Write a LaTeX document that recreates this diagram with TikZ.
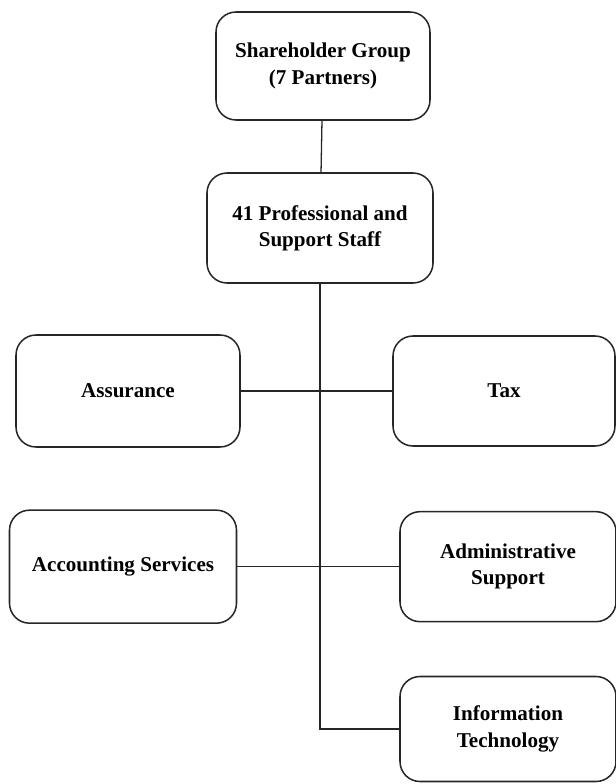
\documentclass[tikz,border=0pt]{standalone}
\usepackage{fontspec}
\setmainfont{Liberation Serif}
\usetikzlibrary{positioning}
\tikzset {
    style A/.style={
        draw=black!85,
        line width=1.3pt,
        rectangle, % Set the shape as a rectangle
        rounded corners=.6cm,
        minimum width=6.6cm,
        minimum height=3.3cm,
        align=center,
        font=\fontsize{18}{22.5}\selectfont\bfseries,
    },
    link/.style={
        draw=black!85,
        line width=1.1pt,
    },
}
\begin{document}
\begin{tikzpicture}
\useasboundingbox (0,0) rectangle (18.48,-23.52);

\node[style A, minimum width=6.42cm, minimum height=3.24cm] at (9.69, -1.98) (share) {Shareholder Group\\(7 Partners)};
\node[style A, minimum width=6.78cm] at (9.6, -6.84) (prof) {41 Professional and\\Support Staff};
\node[style A, minimum width=6.72cm, minimum height=3.36cm] at (3.84, -11.73) (assur) {Assurance};
\node[style A, minimum width=6.66cm] at (15.12, -11.73) (tax) {Tax};
\node[style A, minimum width=6.81cm, minimum height=3.39cm] at (3.69, -17.0) (acct) {Accounting Services};
\node[style A, minimum width=6.48cm] at (15.24, -17.0) (admin) {Administrative\\Support};
\node[style A, minimum width=6.48cm, minimum height=3.15cm] at (15.24, -21.87) (it) {Information\\Technology};

\draw[link] (share) -- (prof);
\draw[link] (prof.south) |- (it.west);
\draw[link] (assur.east) -- (tax.west);
\draw[link] (acct.east) -- (admin.west);
\end{tikzpicture}
\end{document}
